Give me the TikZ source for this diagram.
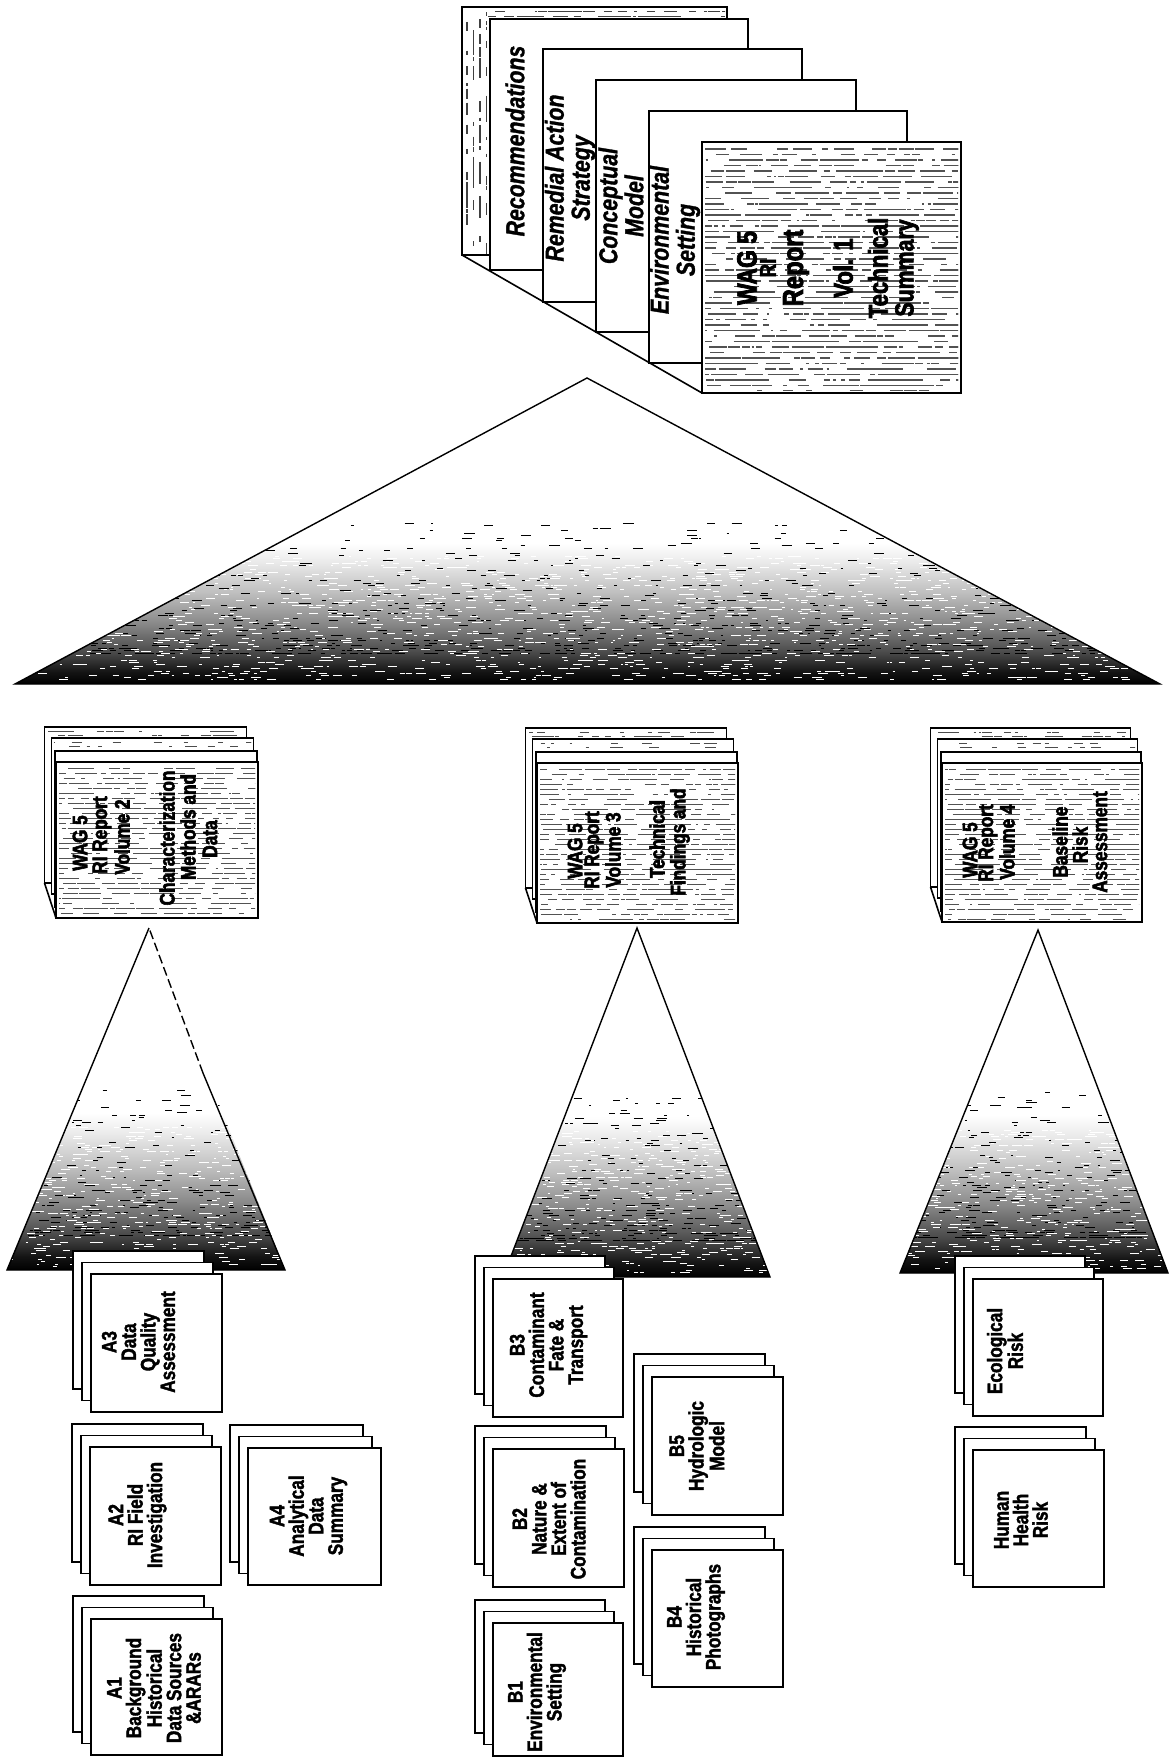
\documentclass[tikz,border=0pt]{standalone}
\usepackage{fontspec}
\setmainfont{Liberation Sans}
\newfontfamily\condbold[FakeStretch=0.82, FakeBold=1.8]{Liberation Sans Bold}
\newfontfamily\condheavy[FakeStretch=0.82, FakeBold=2.6]{Liberation Sans Bold}
\newfontfamily\condboldit[FakeStretch=0.82, FakeBold=1.2]{Liberation Sans Bold Italic}

% dark-to-light fill for the pyramids (path box maps to 25bp..75bp)
\pgfdeclareverticalshading{pyramid}{100bp}{color(0bp)=(black); color(25bp)=(black); color(27bp)=(black!92); color(30bp)=(black!72); color(35bp)=(black!46); color(40bp)=(black!25); color(45bp)=(black!8); color(48bp)=(white); color(100bp)=(white)}

\tikzset{
  sheet/.style={draw=black, line width=1.6pt, fill=white},
  itemlbl/.style={rotate=90, align=center, inner sep=0pt, font=\condbold\fontsize{21}{19.5}\selectfont},
  vollbl/.style={rotate=90, inner sep=0pt, font=\condheavy\fontsize{21}{21}\selectfont},
  chaplbl/.style={rotate=90, align=center, inner sep=0pt, font=\condboldit\fontsize{26}{26}\selectfont},
  coverlbl/.style={rotate=90, inner sep=0pt, font=\condheavy\fontsize{27}{27}\selectfont},
  edge/.style={line width=1.4pt, line join=miter},
  ink/.style={black!68, line width=1.5pt},
  faint/.style={black!70, line width=1pt},
}

% rows of short strokes that read as printed text:
% x0, y0, x1, y1, count, row pitch, max length, style, power (>1 crowds toward y1)
\newcommand\hscrib[9]{%
  \begin{scope}
    \clip ({#1},{#2}) rectangle ({#3},{#4});
    \foreach \i in {1,...,#5}{%
      \pgfmathsetmacro\nx{(#1)-8+rnd*((#3)-(#1)+8)}%
      \pgfmathsetmacro\ny{(#2)+((#4)-(#2))*(1-pow(rnd,#9))}%
      \pgfmathsetmacro\ny{(#2)+(#6)*(floor((\ny-(#2))/(#6))+0.5)}%
      \pgfmathsetmacro\nl{2+rnd*(#7)}%
      \draw[#8] (\nx,\ny) -- ++(\nl,0);
    }%
  \end{scope}}

% textured pyramid body: apex x, apex y, base left x, base right x, base y, light strokes, dark strokes
\newcommand\shadetri[7]{%
  \pgfmathsetmacro\trih{(#5)-(#2)}%
  \pgfmathsetmacro\tya{(#5)-0.53*\trih}%
  \pgfmathsetmacro\tyb{(#5)-0.10*\trih}%
  \pgfmathsetmacro\tyc{(#5)-0.42*\trih}%
  \pgfmathsetmacro\tyd{(#5)-0.01*\trih}%
  \begin{scope}
    \clip (#1,#2) -- (#3,#5) -- (#4,#5) -- cycle;
    \shade[shading=pyramid] (#3,#2) rectangle (#4,#5);
    \hscrib{#3}{\tya}{#4}{\tyb}{#7}{2.5}{9}{black, line width=0.8pt}{2.2}
    \hscrib{#3}{\tyc}{#4}{\tyd}{#6}{2.2}{8}{white, line width=0.7pt}{1}
  \end{scope}}

% three stacked sheets, front sheet given by its corners
\newcommand\itemstack[4]{%
  \foreach \k in {2,1,0}{%
    \draw[sheet] ({#1-9*\k},{#2-11.5*\k}) rectangle ({#3-9*\k},{#4-11.5*\k});
  }}

% bound volume: cover, inner sheets, spine edge, front sheet with printed text
\newcommand\volstack[4]{%
  \draw[sheet] ({#1-11.5},{#2-35}) rectangle ({#3-11.5},{#4-35});
  \hscrib{#1-8}{#2-33}{#3-14}{#2-25}{28}{4}{10}{faint}{1}
  \draw[sheet] ({#1-4.5},{#2-24}) rectangle ({#3-4.5},{#4-24});
  \hscrib{#1-2}{#2-22}{#3-7}{#2-12}{22}{4}{10}{faint}{1}
  \draw[sheet] ({#1-1},{#2-11}) rectangle ({#3-1},{#4-11});
  \draw[line width=1.6pt] ({#1-11.5},{#4-35}) -- (#1,#4);
  \draw[sheet] (#1,#2) rectangle (#3,#4);
  \hscrib{#1+3}{#2+4}{#3-3}{#4-3}{800}{5}{12}{ink}{1}
}

\begin{document}
\begin{tikzpicture}[x=1pt,y=-1pt]
\pgfmathsetseed{11}
\useasboundingbox (0,0) rectangle (1174,1758);
\fill[white] (0,0) rectangle (1174,1758);

% ---------- Volume 1 with its chapter sheets ----------
\draw[sheet] (462,7) rectangle (727,255);
\begin{scope}
  \clip (464,9) rectangle (725,253);
  \foreach \i in {1,...,95}{%
    \pgfmathsetmacro\nx{467+6.5*floor(rnd*3.99)}%
    \pgfmathsetmacro\ny{11+rnd*238}%
    \pgfmathsetmacro\nl{2+rnd*9}%
    \draw[black!75, line width=1.3pt] (\nx,\ny) -- ++(0,\nl);}
  \hscrib{488}{9}{725}{19}{60}{5}{12}{black!75, line width=1.2pt}{1}
\end{scope}
\draw[sheet] (490,19) rectangle (748,270);
\node[chaplbl] (rec) at (515,141) {Recommendations};
\draw[sheet] (543,49) rectangle (802,302);
\node[chaplbl] (ras) at (570,178) {Remedial Action\\Strategy};
\draw[sheet] (596,80) rectangle (856,332);
\node[chaplbl] (cmod) at (621,206) {Conceptual\\Model};
\draw[sheet] (649,111) rectangle (907,363);
\node[chaplbl] (envs) at (675,240) {Environmental\\Setting};
\draw[sheet] (702,142) rectangle (961,393);
\hscrib{705}{146}{958}{390}{1500}{5.5}{15}{ink}{1}
\node[coverlbl, font=\condheavy\fontsize{28}{28}\selectfont] (v1a) at (747,268) {WAG 5};
\node[coverlbl, font=\condheavy\fontsize{23}{23}\selectfont] (v1b) at (768,268) {RI};
\node[coverlbl, font=\condheavy\fontsize{29}{29}\selectfont] (v1c) at (796,268) {Report};
\node[coverlbl] (v1d) at (843,268) {Vol. 1};
\node[coverlbl] (v1e) at (878,268) {Technical};
\node[coverlbl, font=\condheavy\fontsize{26}{26}\selectfont] (v1f) at (907,268) {Summary};
\draw[line width=1.6pt] (462,255) -- (702,393);

% ---------- large pyramid ----------
\shadetri{587}{378}{15}{1160}{684}{1700}{1000}
\draw[edge] (587,378) -- (15,684) -- (1160,684) -- cycle;

% ---------- Volumes 2, 3, 4 ----------
\volstack{56}{762}{258}{918}
\node[vollbl] (v2a) at (80,843) {WAG 5};
\node[vollbl] (v2b) at (102,835) {RI Report};
\node[vollbl] (v2c) at (122,837) {Volume 2};
\node[vollbl] (v2d) at (167,838) {Characterization};
\node[vollbl] (v2e) at (188,827) {Methods and};
\node[vollbl] (v2f) at (210,839) {Data};

\volstack{537}{763}{738}{923}
\node[vollbl] (v3a) at (575,851) {WAG 5};
\node[vollbl] (v3b) at (594,850) {RI Report};
\node[vollbl] (v3c) at (613,850) {Volume 3};
\node[vollbl] (v3d) at (657,839) {Technical};
\node[vollbl] (v3e) at (680,842) {Findings and};

\volstack{942}{763}{1142}{922}
\node[vollbl] (v4a) at (970,850) {WAG 5};
\node[vollbl] (v4b) at (988,843) {RI Report};
\node[vollbl] (v4c) at (1007,842) {Volume 4};
\node[vollbl] (v4d) at (1060,842) {Baseline};
\node[vollbl] (v4e) at (1080,845) {Risk};
\node[vollbl] (v4f) at (1100,842) {Assessment};

% ---------- small pyramids ----------
\shadetri{149}{928}{7}{285}{1270}{480}{320}
\draw[edge] (149,928) -- (7,1270) -- (285,1270) -- (203,1073);
\draw[edge, dash pattern=on 9pt off 4pt] (203,1073) -- (149,928);

\shadetri{637}{928}{503}{770}{1277}{480}{320}
\draw[edge] (637,928) -- (503,1277) -- (770,1277) -- cycle;

\shadetri{1038}{930}{900}{1168}{1273}{480}{320}
\draw[edge] (1038,930) -- (900,1273) -- (1168,1273) -- cycle;

% ---------- appendices of Volume 2 ----------
\itemstack{91}{1274}{222}{1412}
\node[itemlbl] (a3) at (138.5,1342) {A3\\Data\\Quality\\Assessment};
\itemstack{90}{1447}{221}{1585}
\node[itemlbl] (a2) at (137.5,1515) {A2\\RI Field\\Investigation};
\itemstack{91}{1619}{222}{1755}
\node[itemlbl] (a1) at (154,1688) {A1\\Background\\Historical\\Data Sources\\\&ARARs};
\itemstack{248}{1448}{381}{1585}
\node[itemlbl] (a4) at (308.5,1516) {A4\\Analytical\\Data\\Summary};

% ---------- appendices of Volume 3 ----------
\itemstack{493}{1279}{623}{1417}
\node[itemlbl] (b3) at (548.5,1345) {B3\\Contaminant\\Fate \&\\Transport};
\itemstack{493}{1449}{624}{1587}
\node[itemlbl] (b2) at (549,1519) {B2\\Nature \&\\Extent of\\Contamination};
\itemstack{493}{1623}{623}{1756}
\node[itemlbl] (b1) at (537,1692) {B1\\Environmental\\Setting};
\itemstack{652}{1377}{783}{1515}
\node[itemlbl] (b5) at (697,1446) {B5\\Hydrologic\\Model};
\itemstack{652}{1550}{783}{1687}
\node[itemlbl] (b4) at (696,1617) {B4\\Historical\\Photographs};

% ---------- appendices of Volume 4 ----------
\itemstack{973}{1279}{1103}{1416}
\node[itemlbl] (eco) at (1005,1351) {Ecological\\Risk};
\itemstack{973}{1450}{1104}{1587}
\node[itemlbl] (hh) at (1021,1520) {Human\\Health\\Risk};
\end{tikzpicture}
\end{document}
